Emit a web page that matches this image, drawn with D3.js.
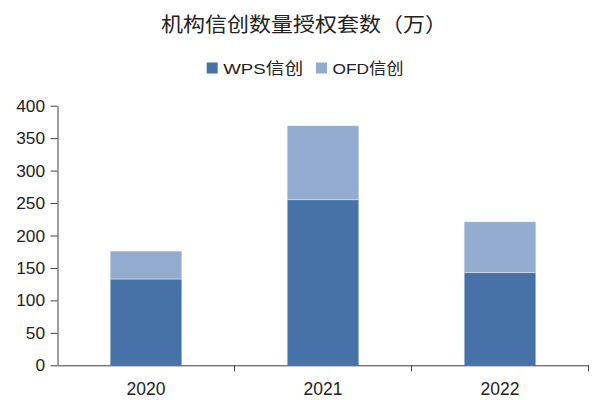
<!DOCTYPE html>
<html><head><meta charset="utf-8">
<script src="https://cdn.jsdelivr.net/npm/d3@7/dist/d3.min.js"></script>
<style>body{margin:0;background:#fff;}svg{display:block;}</style>
</head><body><svg id="c" width="592" height="400"></svg>
<script>
const categories = ["2020", "2021", "2022"];
const wpsValues = [133, 255, 143];
const ofdValues = [43, 114, 78];
const seriesNames = ["WPS信创", "OFD信创"];
const yTicks = [0, 50, 100, 150, 200, 250, 300, 350, 400];
const title = "机构信创数量授权套数（万）";

const colors = ["#4672A8", "#93ABCF"];
const svg = d3.select("#c");
const plotLeft = 57.5, plotRight = 588.5, plotTop = 105.7, plotBottom = 365.3;
const font = "'Liberation Sans', Arial, 'Noto Sans CJK SC', sans-serif";

const x = d3.scaleBand().domain(categories).range([plotLeft, plotRight]).paddingInner(0.595).paddingOuter(0.2975);
const y = d3.scaleLinear().domain([0, 400]).range([plotBottom, plotTop]);

const rows = categories.map((c, i) => ({cat: c, wps: wpsValues[i], ofd: ofdValues[i]}));
const stack = d3.stack().keys(["wps", "ofd"])(rows);

svg.append("text").attr("x", 161).attr("y", 32)
  .attr("font-family", "'Noto Sans CJK SC', sans-serif").attr("font-size", 20).attr("fill", "#222")
  .attr("textLength", 286).attr("lengthAdjust", "spacingAndGlyphs").text(title);

// legend
const legend = svg.append("g");
const lx = [206.7, 316];
const lw = [80, 71];
seriesNames.forEach((n, i) => {
  legend.append("rect").attr("x", lx[i]).attr("y", 62.5).attr("width", 11).attr("height", 11).attr("fill", colors[i]);
  legend.append("text").attr("x", lx[i] + 16.5).attr("y", 73.5).attr("font-family", font).attr("font-size", 15.5).attr("fill", "#222")
    .attr("textLength", lw[i]).attr("lengthAdjust", "spacingAndGlyphs").text(n);
});

// bars
stack.forEach((s, si) => {
  svg.append("g").selectAll("rect").data(s).join("rect")
    .attr("x", d => x(d.data.cat)).attr("width", x.bandwidth())
    .attr("y", d => y(d[1])).attr("height", d => y(d[0]) - y(d[1]))
    .attr("fill", colors[si]).attr("stroke", "#e4ebf5").attr("stroke-width", 0.5);
});

// y axis
const yAxis = svg.append("g").attr("transform", `translate(${plotLeft},0)`)
  .call(d3.axisLeft(y).tickValues(yTicks).tickSize(7).tickPadding(5.5).tickSizeOuter(0));
yAxis.selectAll("text").attr("font-family", font).attr("font-size", 17.3).attr("fill", "#222");
yAxis.selectAll("line,path").attr("stroke", "#404040");

// x axis
const xAxis = svg.append("g").attr("transform", `translate(0,${plotBottom})`)
  .call(d3.axisBottom(x).tickSize(0).tickPadding(17.5));
xAxis.selectAll("text").attr("font-family", font).attr("font-size", 17.5).attr("fill", "#222");
xAxis.select("path").attr("stroke", "#404040");
const step = x.step();
const bounds = categories.map(c => x(c) + x.bandwidth() + step * x.paddingInner() / 2);
xAxis.selectAll("line.b").data(bounds).join("line").attr("class", "b")
  .attr("x1", d => d).attr("x2", d => d).attr("y1", 0).attr("y2", 6).attr("stroke", "#404040");
</script></body></html>
